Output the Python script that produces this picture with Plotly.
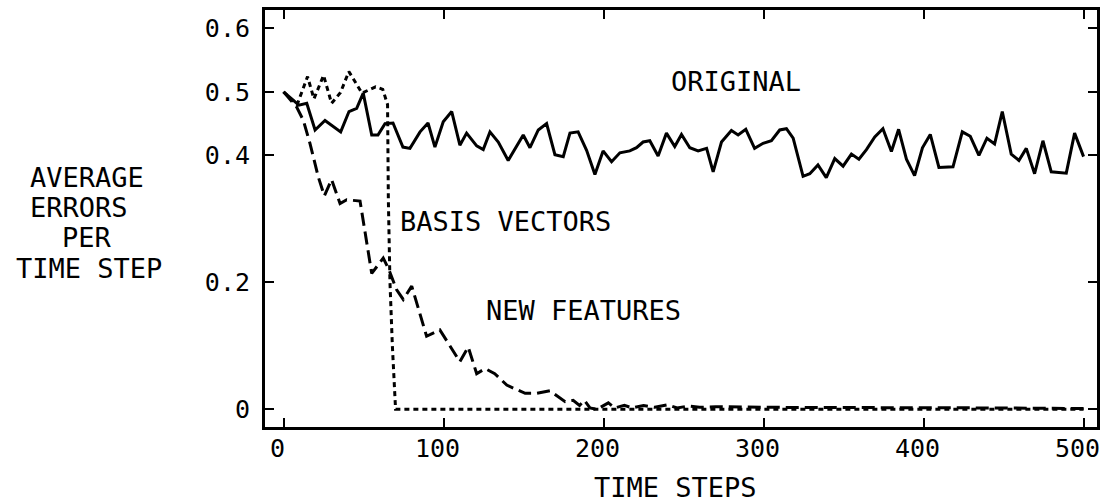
import plotly.graph_objects as go

# ---- data ----
orig_x = [0, 9.6, 14.5, 19.7, 25.9, 35.7, 40.9, 45.7, 49.8, 55.1, 59, 63.4, 68.4, 74.6, 79, 85.3, 90.3, 94.6,
          99.8, 105.1, 110.2, 114.4, 120.7, 124.8, 129, 134.2, 140.4, 149.8, 154, 159.2, 164.4, 169.6, 174.8,
          179, 184.1, 189.4, 194.6, 199.7, 205, 210.2, 216.4, 220.6, 224.7, 228.9, 234.1, 239.3, 244.5, 248.7,
          253.9, 259.1, 264.4, 268.5, 273.7, 279.9, 284.1, 288.9, 294.4, 299.7, 304.9, 310.1, 314.3, 318.5,
          324.7, 328.9, 334, 339.2, 344.5, 349.7, 354.9, 359.6, 364.3, 369.5, 374.6, 379.9, 384.4, 389.3,
          394.4, 399.3, 404.2, 409.6, 418.4, 424.2, 429.2, 434.6, 439.6, 444.4, 449.2, 454.8, 459.6, 464.2,
          469.4, 474.6, 479.8, 489.2, 494.4, 500]
orig_y = [0.5, 0.479, 0.482, 0.44, 0.455, 0.437, 0.469, 0.474, 0.498, 0.432, 0.432, 0.45, 0.451, 0.413, 0.411,
          0.437, 0.451, 0.413, 0.453, 0.469, 0.416, 0.435, 0.415, 0.409, 0.437, 0.421, 0.392, 0.432, 0.412,
          0.44, 0.45, 0.401, 0.398, 0.435, 0.437, 0.408, 0.37, 0.407, 0.39, 0.404, 0.407, 0.412, 0.421, 0.423,
          0.399, 0.435, 0.414, 0.433, 0.412, 0.407, 0.411, 0.374, 0.421, 0.439, 0.432, 0.441, 0.411, 0.419,
          0.423, 0.44, 0.442, 0.427, 0.367, 0.371, 0.385, 0.365, 0.395, 0.383, 0.402, 0.394, 0.409, 0.429,
          0.442, 0.406, 0.441, 0.394, 0.368, 0.412, 0.433, 0.381, 0.382, 0.437, 0.43, 0.4, 0.427, 0.418,
          0.469, 0.402, 0.392, 0.411, 0.371, 0.423, 0.374, 0.372, 0.435, 0.398]

basis_x = [0, 8.5, 15, 19, 25, 30, 35.6, 40.8, 49, 57.5, 62, 65, 65.5, 66.5, 68, 70, 500]
basis_y = [0.5, 0.48, 0.524, 0.489, 0.526, 0.482, 0.499, 0.532, 0.498, 0.508, 0.504, 0.48, 0.33, 0.2, 0.1, 0.0, 0.0]

new_x = [0, 8.2, 12.4, 16.5, 21.7, 25.5, 30, 35.3, 39.5, 47.8, 55.1, 62.3, 65.5, 70.7, 74.8, 80.1, 89.4, 97.7,
         110.2, 115.4, 120.7, 126, 132, 139.5, 151, 158, 166.5, 176, 181, 185, 188, 191.5, 196, 203, 207,
         213, 218, 225, 232, 240, 246, 253, 260, 270, 300, 350, 400, 450, 500]
new_y = [0.5, 0.476, 0.455, 0.419, 0.366, 0.336, 0.362, 0.324, 0.33, 0.328, 0.214, 0.238, 0.222, 0.188, 0.173,
         0.194, 0.115, 0.125, 0.075, 0.098, 0.056, 0.064, 0.056, 0.038, 0.025, 0.025, 0.029, 0.012, 0.014,
         0.006, 0.014, 0.002, 0.0, 0.01, 0.002, 0.006, 0.002, 0.006, 0.003, 0.007, 0.002, 0.005, 0.003,
         0.004, 0.003, 0.003, 0.002, 0.002, 0.001]

x_tick_vals = [0, 100, 200, 300, 400, 500]
x_tick_text = ["0", "100", "200", "300", "400", "500"]
y_tick_vals = [0, 0.2, 0.4, 0.5, 0.6]
y_tick_text = ["0", "0.2", "0.4", "0.5", "0.6"]

y_title_lines = ["AVERAGE", "ERRORS", "PER", "TIME STEP"]

FONT = "DejaVu Sans Mono, Liberation Mono, monospace"

fig = go.Figure()
fig.add_trace(go.Scatter(x=orig_x, y=orig_y, mode="lines",
                         line=dict(color="black", width=3), showlegend=False))
fig.add_trace(go.Scatter(x=basis_x, y=basis_y, mode="lines",
                         line=dict(color="black", width=3, dash="5px,4px"), showlegend=False))
fig.add_trace(go.Scatter(x=new_x, y=new_y, mode="lines",
                         line=dict(color="black", width=3, dash="13px,6px"), showlegend=False))

ann_font = dict(family=FONT, size=27, color="black")
fig.add_annotation(x=282.6, y=0.517, xref="x", yref="y", text="ORIGINAL", showarrow=False,
                   xanchor="center", yanchor="middle", font=ann_font)
fig.add_annotation(x=138.4, y=0.295, xref="x", yref="y", text="BASIS VECTORS", showarrow=False,
                   xanchor="center", yanchor="middle", font=ann_font)
fig.add_annotation(x=187.7, y=0.156, xref="x", yref="y", text="NEW FEATURES", showarrow=False,
                   xanchor="center", yanchor="middle", font=ann_font)

# multi-line y-axis title, one annotation per line (tight line spacing as in the original)
title_xs = [-0.2139, -0.2236, -0.2139, -0.2115]
title_ys = [0.3656, 0.3184, 0.2711, 0.2222]
for txt, tx, ty in zip(y_title_lines, title_xs, title_ys):
    fig.add_annotation(x=tx, y=ty, xref="paper", yref="y", text=txt, showarrow=False,
                       xanchor="center", yanchor="middle",
                       font=dict(family=FONT, size=27, color="black"))

fig.add_annotation(x=245.2, y=-0.145, xref="x", yref="paper", text="TIME STEPS", showarrow=False,
                   xanchor="center", yanchor="middle", font=ann_font)

axis_common = dict(showline=True, linecolor="black", linewidth=3, mirror="ticks",
                   ticks="inside", ticklen=9, tickwidth=2, tickcolor="black",
                   showgrid=False, zeroline=False, automargin=False,
                   tickfont=dict(family=FONT, size=25, color="black"))

fig.update_xaxes(range=[-11.6, 508.4], tickvals=x_tick_vals, ticktext=x_tick_text,
                 ticklabelstandoff=-3, ticklabelshift=-6, ticklabeloverflow="allow", **axis_common)
fig.update_yaxes(range=[-0.028, 0.629], tickvals=y_tick_vals, ticktext=y_tick_text,
                 ticklabelstandoff=7, **axis_common)

fig.update_layout(width=1102, height=502, autosize=False,
                  margin=dict(l=265, r=5, t=10, b=75),
                  paper_bgcolor="white", plot_bgcolor="white")

fig.write_html("out.html", config={"displayModeBar": False},
               post_script="document.body.style.margin='0';")
